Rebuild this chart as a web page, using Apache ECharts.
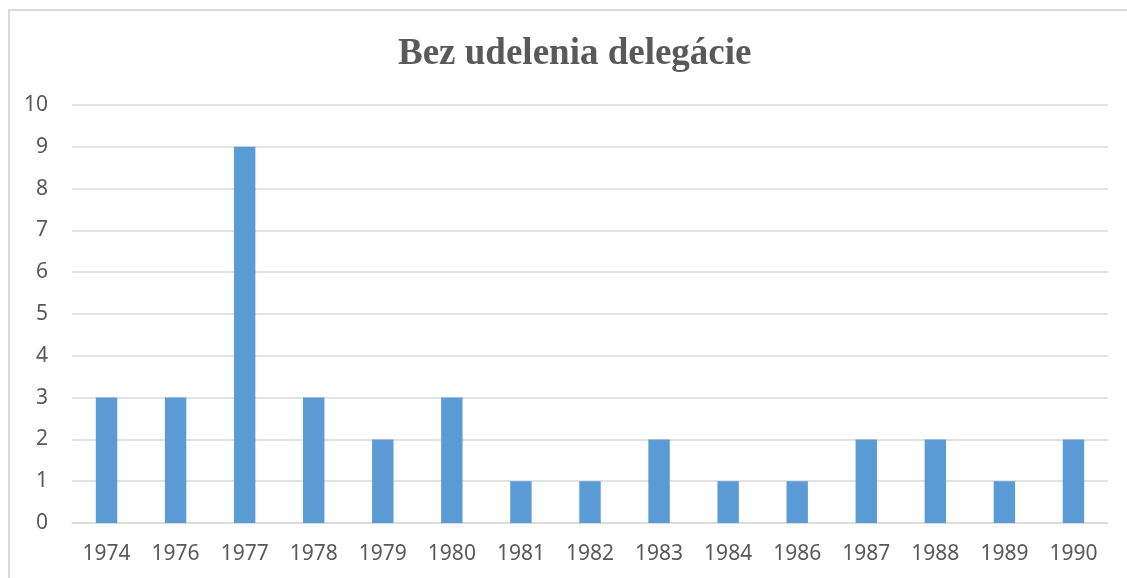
<!DOCTYPE html>
<html>
<head>
<meta charset="utf-8">
<script src="https://cdn.jsdelivr.net/npm/echarts@6/dist/echarts.min.js"></script>
<style>
  html, body { margin: 0; padding: 0; background: #fff; }
  #frame { position: absolute; left: 8px; top: 9px; width: 1200px; height: 700px; border: 2px solid #d9d9d9; }
  #chart { position: absolute; left: 0; top: 0; width: 1127px; height: 578px; }
</style>
</head>
<body>
<div id="frame"></div>
<div id="chart"></div>
<script>
const years = ['1974', '1976', '1977', '1978', '1979', '1980', '1981', '1982', '1983', '1984', '1986', '1987', '1988', '1989', '1990']
const counts = [3, 3, 9, 3, 2, 3, 1, 1, 2, 1, 1, 2, 2, 1, 2]

const myChart = echarts.init(document.getElementById('chart'))
myChart.setOption({
  animation: false,
  title: {
    text: 'Bez udelenia delegácie',
    left: 393,
    top: 31,
    textStyle: {
      fontFamily: 'Liberation Serif',
      fontWeight: 'bold',
      fontSize: 37,
      color: '#595959'
    }
  },
  grid: { left: 72, right: 19, top: 105, bottom: 55 },
  xAxis: {
    type: 'category',
    data: years,
    axisLine: { lineStyle: { color: '#d9d9d9', width: 1.5 } },
    axisTick: { show: false },
    axisLabel: { color: '#595959', fontFamily: 'Noto Sans', fontSize: 21, margin: 21 }
  },
  yAxis: {
    type: 'value',
    min: 0,
    max: 10,
    interval: 1,
    axisLine: { show: false },
    axisTick: { show: false },
    splitLine: { lineStyle: { color: '#d9d9d9', width: 1.5 } },
    axisLabel: { color: '#595959', fontFamily: 'Noto Sans', fontSize: 21, margin: 24 }
  },
  series: [
    {
      name: 'Bez udelenia delegácie',
      type: 'bar',
      data: counts,
      barWidth: '31%',
      itemStyle: { color: '#5b9bd5' }
    }
  ]
})
</script>
</body>
</html>
